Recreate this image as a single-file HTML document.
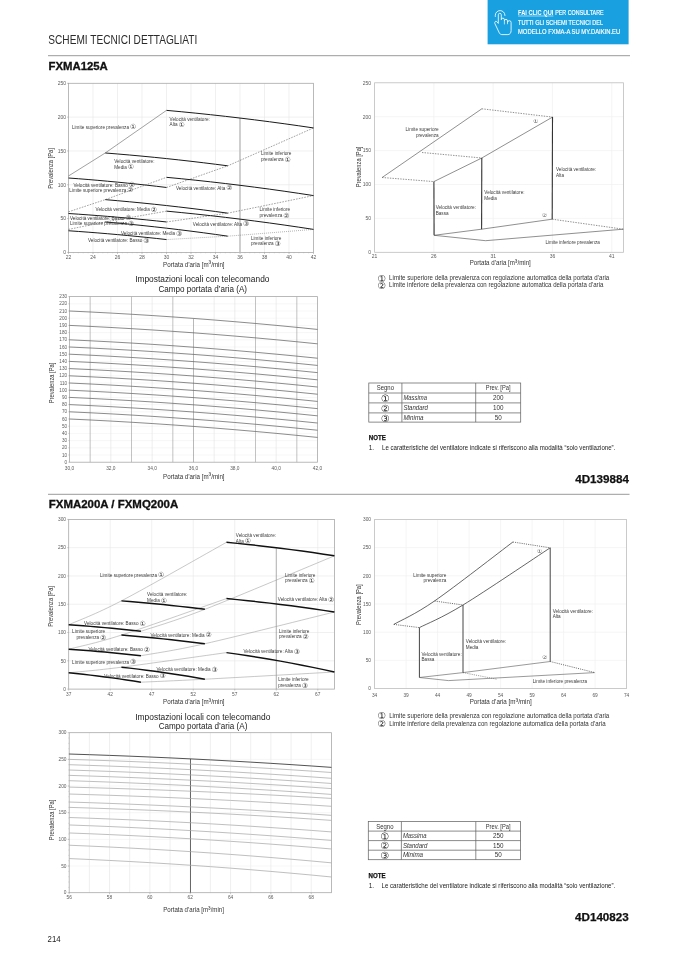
<!DOCTYPE html>
<html lang="it"><head><meta charset="utf-8"><title>Schemi tecnici dettagliati</title>
<style>
html,body{margin:0;padding:0;background:#fff;}
body{width:677px;height:958px;overflow:hidden;}
svg{display:block;font-family:"Liberation Sans", "DejaVu Sans", sans-serif;}
</style></head><body>
<svg width="677" height="958" viewBox="0 0 677 958">
<rect width="677" height="958" fill="#fff"/>
<text x="48.3" y="44.4" font-size="12.2" fill="#2b2b2b" textLength="149" lengthAdjust="spacingAndGlyphs">SCHEMI TECNICI DETTAGLIATI</text>
<line x1="48" y1="55.7" x2="630" y2="55.7" stroke="#9a9a9a" stroke-width="1"/>
<text x="48.5" y="69.9" font-size="10.4" fill="#111" font-weight="bold" textLength="59.3" lengthAdjust="spacingAndGlyphs" stroke="#111" stroke-width="0.3">FXMA125A</text>
<rect x="487.6" y="0" width="141" height="44.3" fill="#18a0e0" stroke="none" stroke-width="1"/>
<text x="518" y="15.3" font-size="6.9" fill="#fff" font-weight="bold" textLength="35.4" lengthAdjust="spacingAndGlyphs">FAI CLIC QUI</text>
<line x1="518" y1="16" x2="553.4" y2="16" stroke="#fff" stroke-width="0.6"/>
<text x="555.2" y="15.3" font-size="6.9" fill="#fff" textLength="48.4" lengthAdjust="spacingAndGlyphs" stroke="#fff" stroke-width="0.18">PER CONSULTARE</text>
<text x="518" y="24.8" font-size="6.9" fill="#fff" textLength="85" lengthAdjust="spacingAndGlyphs" stroke="#fff" stroke-width="0.18">TUTTI GLI SCHEMI TECNICI DEL</text>
<text x="518" y="34.2" font-size="6.9" fill="#fff" textLength="102.2" lengthAdjust="spacingAndGlyphs" stroke="#fff" stroke-width="0.18">MODELLO FXMA-A SU MY.DAIKIN.EU</text>
<path d="M498.3,23.4 L498.3,14.8 A1.5,1.5 0 0 1 501.3,14.8 L501.3,19.7 A1.55,1.55 0 0 1 504.4,19.7 L504.4,20.9 A1.55,1.55 0 0 1 507.5,20.9 L507.5,22.5 A1.8,1.8 0 0 1 511.1,22.5 L511.1,30.6 C511.1,32.8 509.9,34.6 507.9,34.6 L501.8,34.6 C500.6,34.6 499.9,33.9 499.3,32.9 L494.9,23.6 C494.3,22.2 495.5,20.6 496.7,21.6 Z" fill="none" stroke="#fff" stroke-width="0.85"/>
<line x1="504.4" y1="20.9" x2="504.4" y2="24.4" stroke="#fff" stroke-width="0.7"/>
<line x1="507.5" y1="22.5" x2="507.5" y2="24.2" stroke="#fff" stroke-width="0.7"/>
<path d="M495.3,16.9 L495.3,15.4 A4.8,4.8 0 0 1 504.9,15.4 L504.9,16.0" fill="none" stroke="#fff" stroke-width="0.85"/>
<line x1="93" y1="83.3" x2="93" y2="252.4" stroke="#e6e6e6" stroke-width="0.6"/>
<line x1="117.5" y1="83.3" x2="117.5" y2="252.4" stroke="#e6e6e6" stroke-width="0.6"/>
<line x1="142" y1="83.3" x2="142" y2="252.4" stroke="#e6e6e6" stroke-width="0.6"/>
<line x1="166.5" y1="83.3" x2="166.5" y2="252.4" stroke="#e6e6e6" stroke-width="0.6"/>
<line x1="191" y1="83.3" x2="191" y2="252.4" stroke="#e6e6e6" stroke-width="0.6"/>
<line x1="215.5" y1="83.3" x2="215.5" y2="252.4" stroke="#e6e6e6" stroke-width="0.6"/>
<line x1="240" y1="83.3" x2="240" y2="252.4" stroke="#e6e6e6" stroke-width="0.6"/>
<line x1="264.5" y1="83.3" x2="264.5" y2="252.4" stroke="#e6e6e6" stroke-width="0.6"/>
<line x1="289" y1="83.3" x2="289" y2="252.4" stroke="#e6e6e6" stroke-width="0.6"/>
<line x1="68.5" y1="218.58" x2="313.5" y2="218.58" stroke="#e6e6e6" stroke-width="0.6"/>
<line x1="68.5" y1="184.76" x2="313.5" y2="184.76" stroke="#e6e6e6" stroke-width="0.6"/>
<line x1="68.5" y1="150.94" x2="313.5" y2="150.94" stroke="#e6e6e6" stroke-width="0.6"/>
<line x1="68.5" y1="117.12" x2="313.5" y2="117.12" stroke="#e6e6e6" stroke-width="0.6"/>
<rect x="68.5" y="83.3" width="245" height="169.1" fill="none" stroke="#a8a8a8" stroke-width="0.8"/>
<text x="66" y="254.2" font-size="5" fill="#5a5a5a" text-anchor="end">0</text>
<line x1="67" y1="252.4" x2="68.5" y2="252.4" stroke="#999" stroke-width="0.5"/>
<text x="66" y="220.38" font-size="5" fill="#5a5a5a" text-anchor="end">50</text>
<line x1="67" y1="218.58" x2="68.5" y2="218.58" stroke="#999" stroke-width="0.5"/>
<text x="66" y="186.56" font-size="5" fill="#5a5a5a" text-anchor="end">100</text>
<line x1="67" y1="184.76" x2="68.5" y2="184.76" stroke="#999" stroke-width="0.5"/>
<text x="66" y="152.74" font-size="5" fill="#5a5a5a" text-anchor="end">150</text>
<line x1="67" y1="150.94" x2="68.5" y2="150.94" stroke="#999" stroke-width="0.5"/>
<text x="66" y="118.92" font-size="5" fill="#5a5a5a" text-anchor="end">200</text>
<line x1="67" y1="117.12" x2="68.5" y2="117.12" stroke="#999" stroke-width="0.5"/>
<text x="66" y="85.1" font-size="5" fill="#5a5a5a" text-anchor="end">250</text>
<line x1="67" y1="83.3" x2="68.5" y2="83.3" stroke="#999" stroke-width="0.5"/>
<text x="68.5" y="258.8" font-size="5" fill="#5a5a5a" text-anchor="middle">22</text>
<line x1="68.5" y1="252.4" x2="68.5" y2="253.9" stroke="#999" stroke-width="0.5"/>
<text x="93" y="258.8" font-size="5" fill="#5a5a5a" text-anchor="middle">24</text>
<line x1="93" y1="252.4" x2="93" y2="253.9" stroke="#999" stroke-width="0.5"/>
<text x="117.5" y="258.8" font-size="5" fill="#5a5a5a" text-anchor="middle">26</text>
<line x1="117.5" y1="252.4" x2="117.5" y2="253.9" stroke="#999" stroke-width="0.5"/>
<text x="142" y="258.8" font-size="5" fill="#5a5a5a" text-anchor="middle">28</text>
<line x1="142" y1="252.4" x2="142" y2="253.9" stroke="#999" stroke-width="0.5"/>
<text x="166.5" y="258.8" font-size="5" fill="#5a5a5a" text-anchor="middle">30</text>
<line x1="166.5" y1="252.4" x2="166.5" y2="253.9" stroke="#999" stroke-width="0.5"/>
<text x="191" y="258.8" font-size="5" fill="#5a5a5a" text-anchor="middle">32</text>
<line x1="191" y1="252.4" x2="191" y2="253.9" stroke="#999" stroke-width="0.5"/>
<text x="215.5" y="258.8" font-size="5" fill="#5a5a5a" text-anchor="middle">34</text>
<line x1="215.5" y1="252.4" x2="215.5" y2="253.9" stroke="#999" stroke-width="0.5"/>
<text x="240" y="258.8" font-size="5" fill="#5a5a5a" text-anchor="middle">36</text>
<line x1="240" y1="252.4" x2="240" y2="253.9" stroke="#999" stroke-width="0.5"/>
<text x="264.5" y="258.8" font-size="5" fill="#5a5a5a" text-anchor="middle">38</text>
<line x1="264.5" y1="252.4" x2="264.5" y2="253.9" stroke="#999" stroke-width="0.5"/>
<text x="289" y="258.8" font-size="5" fill="#5a5a5a" text-anchor="middle">40</text>
<line x1="289" y1="252.4" x2="289" y2="253.9" stroke="#999" stroke-width="0.5"/>
<text x="313.5" y="258.8" font-size="5" fill="#5a5a5a" text-anchor="middle">42</text>
<line x1="313.5" y1="252.4" x2="313.5" y2="253.9" stroke="#999" stroke-width="0.5"/>
<line x1="68.5" y1="252.4" x2="68.5" y2="253.3" stroke="#aaa" stroke-width="0.4"/>
<line x1="73.4" y1="252.4" x2="73.4" y2="253.3" stroke="#aaa" stroke-width="0.4"/>
<line x1="78.3" y1="252.4" x2="78.3" y2="253.3" stroke="#aaa" stroke-width="0.4"/>
<line x1="83.2" y1="252.4" x2="83.2" y2="253.3" stroke="#aaa" stroke-width="0.4"/>
<line x1="88.1" y1="252.4" x2="88.1" y2="253.3" stroke="#aaa" stroke-width="0.4"/>
<line x1="93" y1="252.4" x2="93" y2="253.3" stroke="#aaa" stroke-width="0.4"/>
<line x1="97.9" y1="252.4" x2="97.9" y2="253.3" stroke="#aaa" stroke-width="0.4"/>
<line x1="102.8" y1="252.4" x2="102.8" y2="253.3" stroke="#aaa" stroke-width="0.4"/>
<line x1="107.7" y1="252.4" x2="107.7" y2="253.3" stroke="#aaa" stroke-width="0.4"/>
<line x1="112.6" y1="252.4" x2="112.6" y2="253.3" stroke="#aaa" stroke-width="0.4"/>
<line x1="117.5" y1="252.4" x2="117.5" y2="253.3" stroke="#aaa" stroke-width="0.4"/>
<line x1="122.4" y1="252.4" x2="122.4" y2="253.3" stroke="#aaa" stroke-width="0.4"/>
<line x1="127.3" y1="252.4" x2="127.3" y2="253.3" stroke="#aaa" stroke-width="0.4"/>
<line x1="132.2" y1="252.4" x2="132.2" y2="253.3" stroke="#aaa" stroke-width="0.4"/>
<line x1="137.1" y1="252.4" x2="137.1" y2="253.3" stroke="#aaa" stroke-width="0.4"/>
<line x1="142" y1="252.4" x2="142" y2="253.3" stroke="#aaa" stroke-width="0.4"/>
<line x1="146.9" y1="252.4" x2="146.9" y2="253.3" stroke="#aaa" stroke-width="0.4"/>
<line x1="151.8" y1="252.4" x2="151.8" y2="253.3" stroke="#aaa" stroke-width="0.4"/>
<line x1="156.7" y1="252.4" x2="156.7" y2="253.3" stroke="#aaa" stroke-width="0.4"/>
<line x1="161.6" y1="252.4" x2="161.6" y2="253.3" stroke="#aaa" stroke-width="0.4"/>
<line x1="166.5" y1="252.4" x2="166.5" y2="253.3" stroke="#aaa" stroke-width="0.4"/>
<line x1="171.4" y1="252.4" x2="171.4" y2="253.3" stroke="#aaa" stroke-width="0.4"/>
<line x1="176.3" y1="252.4" x2="176.3" y2="253.3" stroke="#aaa" stroke-width="0.4"/>
<line x1="181.2" y1="252.4" x2="181.2" y2="253.3" stroke="#aaa" stroke-width="0.4"/>
<line x1="186.1" y1="252.4" x2="186.1" y2="253.3" stroke="#aaa" stroke-width="0.4"/>
<line x1="191" y1="252.4" x2="191" y2="253.3" stroke="#aaa" stroke-width="0.4"/>
<line x1="195.9" y1="252.4" x2="195.9" y2="253.3" stroke="#aaa" stroke-width="0.4"/>
<line x1="200.8" y1="252.4" x2="200.8" y2="253.3" stroke="#aaa" stroke-width="0.4"/>
<line x1="205.7" y1="252.4" x2="205.7" y2="253.3" stroke="#aaa" stroke-width="0.4"/>
<line x1="210.6" y1="252.4" x2="210.6" y2="253.3" stroke="#aaa" stroke-width="0.4"/>
<line x1="215.5" y1="252.4" x2="215.5" y2="253.3" stroke="#aaa" stroke-width="0.4"/>
<line x1="220.4" y1="252.4" x2="220.4" y2="253.3" stroke="#aaa" stroke-width="0.4"/>
<line x1="225.3" y1="252.4" x2="225.3" y2="253.3" stroke="#aaa" stroke-width="0.4"/>
<line x1="230.2" y1="252.4" x2="230.2" y2="253.3" stroke="#aaa" stroke-width="0.4"/>
<line x1="235.1" y1="252.4" x2="235.1" y2="253.3" stroke="#aaa" stroke-width="0.4"/>
<line x1="240" y1="252.4" x2="240" y2="253.3" stroke="#aaa" stroke-width="0.4"/>
<line x1="244.9" y1="252.4" x2="244.9" y2="253.3" stroke="#aaa" stroke-width="0.4"/>
<line x1="249.8" y1="252.4" x2="249.8" y2="253.3" stroke="#aaa" stroke-width="0.4"/>
<line x1="254.7" y1="252.4" x2="254.7" y2="253.3" stroke="#aaa" stroke-width="0.4"/>
<line x1="259.6" y1="252.4" x2="259.6" y2="253.3" stroke="#aaa" stroke-width="0.4"/>
<line x1="264.5" y1="252.4" x2="264.5" y2="253.3" stroke="#aaa" stroke-width="0.4"/>
<line x1="269.4" y1="252.4" x2="269.4" y2="253.3" stroke="#aaa" stroke-width="0.4"/>
<line x1="274.3" y1="252.4" x2="274.3" y2="253.3" stroke="#aaa" stroke-width="0.4"/>
<line x1="279.2" y1="252.4" x2="279.2" y2="253.3" stroke="#aaa" stroke-width="0.4"/>
<line x1="284.1" y1="252.4" x2="284.1" y2="253.3" stroke="#aaa" stroke-width="0.4"/>
<line x1="289" y1="252.4" x2="289" y2="253.3" stroke="#aaa" stroke-width="0.4"/>
<line x1="293.9" y1="252.4" x2="293.9" y2="253.3" stroke="#aaa" stroke-width="0.4"/>
<line x1="298.8" y1="252.4" x2="298.8" y2="253.3" stroke="#aaa" stroke-width="0.4"/>
<line x1="303.7" y1="252.4" x2="303.7" y2="253.3" stroke="#aaa" stroke-width="0.4"/>
<line x1="308.6" y1="252.4" x2="308.6" y2="253.3" stroke="#aaa" stroke-width="0.4"/>
<line x1="313.5" y1="252.4" x2="313.5" y2="253.3" stroke="#aaa" stroke-width="0.4"/>
<line x1="240" y1="118.07" x2="240" y2="252.4" stroke="#c4c4c4" stroke-width="1.6"/>
<polyline points="68.5,178 78.3,178.73 88.1,179.51 97.9,180.34 107.7,181.22 117.5,182.14 127.3,183.11 137.1,184.13 146.9,185.19 156.7,186.31 166.5,187.47" fill="none" stroke="#1a1a1a" stroke-width="1"/>
<polyline points="105.25,152.97 117.5,153.97 129.75,155.03 142,156.15 154.25,157.34 166.5,158.59 178.75,159.91 191,161.29 203.25,162.74 215.5,164.25 227.75,165.82" fill="none" stroke="#1a1a1a" stroke-width="1"/>
<polyline points="166.5,110.36 181.2,111.72 195.9,113.17 210.6,114.71 225.3,116.34 240,118.05 254.7,119.85 269.4,121.74 284.1,123.72 298.8,125.79 313.5,127.94" fill="none" stroke="#1a1a1a" stroke-width="1"/>
<polyline points="68.5,175.97 105.25,152.97 166.5,110.36" fill="none" stroke="#555" stroke-width="0.55"/>
<polyline points="166.5,187.47 227.75,165.82 313.5,127.94" fill="none" stroke="#555" stroke-width="0.55" stroke-dasharray="1.6,1.2"/>
<polyline points="68.5,213.51 78.3,214.16 88.1,214.86 97.9,215.6 107.7,216.38 117.5,217.21 127.3,218.07 137.1,218.98 146.9,219.93 156.7,220.93 166.5,221.96" fill="none" stroke="#1a1a1a" stroke-width="1"/>
<polyline points="105.25,199.64 117.5,200.69 129.75,201.81 142,202.99 154.25,204.24 166.5,205.56 178.75,206.95 191,208.4 203.25,209.92 215.5,211.51 227.75,213.17" fill="none" stroke="#1a1a1a" stroke-width="1"/>
<polyline points="166.5,177.32 181.2,178.73 195.9,180.24 210.6,181.84 225.3,183.53 240,185.31 254.7,187.18 269.4,189.14 284.1,191.2 298.8,193.35 313.5,195.58" fill="none" stroke="#1a1a1a" stroke-width="1"/>
<polyline points="68.5,211.82 105.25,199.64 166.5,177.32" fill="none" stroke="#555" stroke-width="0.55" stroke-dasharray="1.6,1.2"/>
<polyline points="166.5,221.96 227.75,213.17 313.5,195.58" fill="none" stroke="#555" stroke-width="0.55" stroke-dasharray="1.6,1.2"/>
<polyline points="68.5,230.76 78.3,231.44 88.1,232.16 97.9,232.93 107.7,233.74 117.5,234.6 127.3,235.5 137.1,236.45 146.9,237.44 156.7,238.47 166.5,239.55" fill="none" stroke="#1a1a1a" stroke-width="1"/>
<polyline points="105.25,221.96 117.5,223.06 129.75,224.23 142,225.48 154.25,226.79 166.5,228.18 178.75,229.63 191,231.16 203.25,232.76 215.5,234.43 227.75,236.17" fill="none" stroke="#1a1a1a" stroke-width="1"/>
<polyline points="166.5,211.14 181.2,212.55 195.9,214.06 210.6,215.66 225.3,217.35 240,219.13 254.7,221 269.4,222.96 284.1,225.02 298.8,227.17 313.5,229.4" fill="none" stroke="#1a1a1a" stroke-width="1"/>
<polyline points="68.5,229.4 105.25,221.96 166.5,211.14" fill="none" stroke="#555" stroke-width="0.55" stroke-dasharray="1.6,1.2"/>
<polyline points="166.5,239.55 227.75,236.17 313.5,229.4" fill="none" stroke="#555" stroke-width="0.55" stroke-dasharray="0.8,1.2"/>
<text transform="translate(72,128.8) scale(0.8,1)" font-size="5.8" fill="#3a3a3a">Limite superiore prevalenza</text>
<text x="129.88" y="129.4" font-size="7" fill="#3a3a3a">①</text>
<text transform="translate(169.6,120.6) scale(0.8,1)" font-size="5.8" fill="#3a3a3a">Velocità ventilatore:</text>
<text transform="translate(169.6,126.3) scale(0.8,1)" font-size="5.8" fill="#3a3a3a">Alta</text>
<text x="178.5" y="126.9" font-size="7" fill="#3a3a3a">①</text>
<text transform="translate(114.2,162.7) scale(0.8,1)" font-size="5.8" fill="#3a3a3a">Velocità ventilatore:</text>
<text transform="translate(114.2,168.5) scale(0.8,1)" font-size="5.8" fill="#3a3a3a">Media</text>
<text x="127.74" y="169.1" font-size="7" fill="#3a3a3a">①</text>
<text transform="translate(261,155.3) scale(0.8,1)" font-size="5.8" fill="#3a3a3a">Limite inferiore</text>
<text transform="translate(261,160.9) scale(0.8,1)" font-size="5.8" fill="#3a3a3a">prevalenza</text>
<text x="284.59" y="161.5" font-size="7" fill="#3a3a3a">①</text>
<text transform="translate(73.4,186.5) scale(0.8,1)" font-size="5.8" fill="#3a3a3a">Velocità ventilatore: Basso</text>
<text x="128.7" y="187.1" font-size="7" fill="#3a3a3a">①</text>
<text transform="translate(69.3,191.8) scale(0.8,1)" font-size="5.8" fill="#3a3a3a">Limite superiore prevalenza</text>
<text x="127.18" y="192.4" font-size="7" fill="#3a3a3a">②</text>
<text transform="translate(176,189.6) scale(0.8,1)" font-size="5.8" fill="#3a3a3a">Velocità ventilatore: Alta</text>
<text x="226.15" y="190.2" font-size="7" fill="#3a3a3a">②</text>
<text transform="translate(95.6,210.9) scale(0.8,1)" font-size="5.8" fill="#3a3a3a">Velocità ventilatore: Media</text>
<text x="150.64" y="211.5" font-size="7" fill="#3a3a3a">②</text>
<text transform="translate(259.6,210.9) scale(0.8,1)" font-size="5.8" fill="#3a3a3a">Limite inferiore</text>
<text transform="translate(259.6,216.9) scale(0.8,1)" font-size="5.8" fill="#3a3a3a">prevalenza</text>
<text x="283.19" y="217.5" font-size="7" fill="#3a3a3a">②</text>
<text transform="translate(70,219.6) scale(0.8,1)" font-size="5.8" fill="#3a3a3a">Velocità ventilatore: Basso</text>
<text x="125.3" y="220.2" font-size="7" fill="#3a3a3a">②</text>
<text transform="translate(70,225.4) scale(0.8,1)" font-size="5.8" fill="#3a3a3a">Limite superiore prevalenza</text>
<text x="127.88" y="226" font-size="7" fill="#3a3a3a">③</text>
<text transform="translate(192.8,225.8) scale(0.8,1)" font-size="5.8" fill="#3a3a3a">Velocità ventilatore: Alta</text>
<text x="242.95" y="226.4" font-size="7" fill="#3a3a3a">③</text>
<text transform="translate(121,235.1) scale(0.8,1)" font-size="5.8" fill="#3a3a3a">Velocità ventilatore: Media</text>
<text x="176.04" y="235.7" font-size="7" fill="#3a3a3a">③</text>
<text transform="translate(88,242.3) scale(0.8,1)" font-size="5.8" fill="#3a3a3a">Velocità ventilatore: Basso</text>
<text x="143.3" y="242.9" font-size="7" fill="#3a3a3a">③</text>
<text transform="translate(251,239.9) scale(0.8,1)" font-size="5.8" fill="#3a3a3a">Limite inferiore</text>
<text transform="translate(251,245) scale(0.8,1)" font-size="5.8" fill="#3a3a3a">prevalenza</text>
<text x="274.59" y="245.6" font-size="7" fill="#3a3a3a">③</text>
<text x="163.1" y="266.6" font-size="6.4" fill="#333" textLength="61.5" lengthAdjust="spacingAndGlyphs">Portata d’aria [m<tspan font-size="8" dy="-0.4">³</tspan><tspan dy="0.4">/min]</tspan></text>
<text x="0" y="0" font-size="6.4" fill="#333" text-anchor="middle" textLength="40.7" lengthAdjust="spacingAndGlyphs" transform="translate(53.3,168.5) rotate(-90)">Prevalenza [Pa]</text>
<line x1="433.89" y1="82.8" x2="433.89" y2="252.3" stroke="#efefef" stroke-width="0.6"/>
<line x1="493.17" y1="82.8" x2="493.17" y2="252.3" stroke="#efefef" stroke-width="0.6"/>
<line x1="552.46" y1="82.8" x2="552.46" y2="252.3" stroke="#efefef" stroke-width="0.6"/>
<line x1="611.74" y1="82.8" x2="611.74" y2="252.3" stroke="#efefef" stroke-width="0.6"/>
<line x1="374.6" y1="218.4" x2="623.6" y2="218.4" stroke="#efefef" stroke-width="0.6"/>
<line x1="374.6" y1="184.5" x2="623.6" y2="184.5" stroke="#efefef" stroke-width="0.6"/>
<line x1="374.6" y1="150.6" x2="623.6" y2="150.6" stroke="#efefef" stroke-width="0.6"/>
<line x1="374.6" y1="116.7" x2="623.6" y2="116.7" stroke="#efefef" stroke-width="0.6"/>
<rect x="374.6" y="82.8" width="249" height="169.5" fill="none" stroke="#bdbdbd" stroke-width="0.8"/>
<text x="371" y="254.1" font-size="5" fill="#5a5a5a" text-anchor="end">0</text>
<text x="371" y="220.2" font-size="5" fill="#5a5a5a" text-anchor="end">50</text>
<text x="371" y="186.3" font-size="5" fill="#5a5a5a" text-anchor="end">100</text>
<text x="371" y="152.4" font-size="5" fill="#5a5a5a" text-anchor="end">150</text>
<text x="371" y="118.5" font-size="5" fill="#5a5a5a" text-anchor="end">200</text>
<text x="371" y="84.6" font-size="5" fill="#5a5a5a" text-anchor="end">250</text>
<text x="374.6" y="258.4" font-size="5" fill="#5a5a5a" text-anchor="middle">21</text>
<text x="433.89" y="258.4" font-size="5" fill="#5a5a5a" text-anchor="middle">26</text>
<text x="493.17" y="258.4" font-size="5" fill="#5a5a5a" text-anchor="middle">31</text>
<text x="552.46" y="258.4" font-size="5" fill="#5a5a5a" text-anchor="middle">36</text>
<text x="611.74" y="258.4" font-size="5" fill="#5a5a5a" text-anchor="middle">41</text>
<polyline points="382.1,177.5 481.8,108.8" fill="none" stroke="#444" stroke-width="0.6"/>
<polyline points="481.8,108.8 552.5,117.1" fill="none" stroke="#444" stroke-width="0.6" stroke-dasharray="1.4,1.2"/>
<polyline points="433.9,181.6 481.8,158 552.5,117.1" fill="none" stroke="#444" stroke-width="0.6"/>
<polyline points="382.1,177.5 433.9,181.6" fill="none" stroke="#444" stroke-width="0.6" stroke-dasharray="1.4,1.2"/>
<polyline points="422,152.5 481.8,158" fill="none" stroke="#444" stroke-width="0.6" stroke-dasharray="1.4,1.2"/>
<line x1="433.9" y1="181.6" x2="434.1" y2="235.3" stroke="#333" stroke-width="1.1"/>
<line x1="481.8" y1="158" x2="481.6" y2="229.2" stroke="#333" stroke-width="1.1"/>
<line x1="552.5" y1="117.1" x2="552.2" y2="219.2" stroke="#333" stroke-width="1.1"/>
<polyline points="434.1,235.3 481.6,229.2 552.2,219.2" fill="none" stroke="#444" stroke-width="0.6"/>
<polyline points="552.2,219.2 623.4,229.2" fill="none" stroke="#444" stroke-width="0.6" stroke-dasharray="1.4,1.2"/>
<polyline points="623.4,229.2 485.6,240.7 434.1,235.3" fill="none" stroke="#444" stroke-width="0.6"/>
<text transform="translate(438.6,130.8) scale(0.8,1)" font-size="5.8" fill="#3a3a3a" text-anchor="end">Limite superiore</text>
<text transform="translate(438.6,136.6) scale(0.8,1)" font-size="5.8" fill="#3a3a3a" text-anchor="end">prevalenza</text>
<text x="535.8" y="122.6" font-size="5.6" fill="#3a3a3a" text-anchor="middle">①</text>
<text transform="translate(556,171) scale(0.8,1)" font-size="5.8" fill="#3a3a3a">Velocità ventilatore:</text>
<text transform="translate(556,176.6) scale(0.8,1)" font-size="5.8" fill="#3a3a3a">Alta</text>
<text transform="translate(484.3,193.6) scale(0.8,1)" font-size="5.8" fill="#3a3a3a">Velocità ventilatore:</text>
<text transform="translate(484.3,199.6) scale(0.8,1)" font-size="5.8" fill="#3a3a3a">Media</text>
<text transform="translate(435.7,208.9) scale(0.8,1)" font-size="5.8" fill="#3a3a3a">Velocità ventilatore:</text>
<text transform="translate(435.7,214.9) scale(0.8,1)" font-size="5.8" fill="#3a3a3a">Bassa</text>
<text x="544.4" y="216.7" font-size="5.6" fill="#3a3a3a" text-anchor="middle">②</text>
<text transform="translate(545.4,243.9) scale(0.8,1)" font-size="5.8" fill="#3a3a3a">Limite inferiore prevalenza</text>
<text x="469.7" y="265.3" font-size="6.4" fill="#333" textLength="61.1" lengthAdjust="spacingAndGlyphs">Portata d’aria [m<tspan font-size="8" dy="-0.4">³</tspan><tspan dy="0.4">/min]</tspan></text>
<text x="0" y="0" font-size="6.4" fill="#333" text-anchor="middle" textLength="40.7" lengthAdjust="spacingAndGlyphs" transform="translate(360.5,166.9) rotate(-90)">Prevalenza [Pa]</text>
<text x="377.6" y="281.7" font-size="9.6" fill="#222">①</text>
<text x="389.1" y="280.4" font-size="6.3" fill="#333" textLength="220.2" lengthAdjust="spacingAndGlyphs">Limite superiore della prevalenza con regolazione automatica della portata d’aria</text>
<text x="377.6" y="288.7" font-size="9.6" fill="#222">②</text>
<text x="389.1" y="287.2" font-size="6.3" fill="#333" textLength="214.3" lengthAdjust="spacingAndGlyphs">Limite inferiore della prevalenza con regolazione automatica della portata d’aria</text>
<text x="202.3" y="281.8" font-size="8.6" fill="#222" text-anchor="middle" textLength="134.3" lengthAdjust="spacingAndGlyphs">Impostazioni locali con telecomando</text>
<text x="202.7" y="291.9" font-size="8.6" fill="#222" text-anchor="middle" textLength="88.6" lengthAdjust="spacingAndGlyphs">Campo portata d’aria (A)</text>
<line x1="69.5" y1="455" x2="317.5" y2="455" stroke="#eeeeee" stroke-width="0.5"/>
<line x1="69.5" y1="447.8" x2="317.5" y2="447.8" stroke="#eeeeee" stroke-width="0.5"/>
<line x1="69.5" y1="440.6" x2="317.5" y2="440.6" stroke="#eeeeee" stroke-width="0.5"/>
<line x1="69.5" y1="433.4" x2="317.5" y2="433.4" stroke="#eeeeee" stroke-width="0.5"/>
<line x1="69.5" y1="426.2" x2="317.5" y2="426.2" stroke="#eeeeee" stroke-width="0.5"/>
<line x1="69.5" y1="419" x2="317.5" y2="419" stroke="#eeeeee" stroke-width="0.5"/>
<line x1="69.5" y1="411.8" x2="317.5" y2="411.8" stroke="#eeeeee" stroke-width="0.5"/>
<line x1="69.5" y1="404.6" x2="317.5" y2="404.6" stroke="#eeeeee" stroke-width="0.5"/>
<line x1="69.5" y1="397.4" x2="317.5" y2="397.4" stroke="#eeeeee" stroke-width="0.5"/>
<line x1="69.5" y1="390.2" x2="317.5" y2="390.2" stroke="#eeeeee" stroke-width="0.5"/>
<line x1="69.5" y1="383" x2="317.5" y2="383" stroke="#eeeeee" stroke-width="0.5"/>
<line x1="69.5" y1="375.8" x2="317.5" y2="375.8" stroke="#eeeeee" stroke-width="0.5"/>
<line x1="69.5" y1="368.6" x2="317.5" y2="368.6" stroke="#eeeeee" stroke-width="0.5"/>
<line x1="69.5" y1="361.4" x2="317.5" y2="361.4" stroke="#eeeeee" stroke-width="0.5"/>
<line x1="69.5" y1="354.2" x2="317.5" y2="354.2" stroke="#eeeeee" stroke-width="0.5"/>
<line x1="69.5" y1="347" x2="317.5" y2="347" stroke="#eeeeee" stroke-width="0.5"/>
<line x1="69.5" y1="339.8" x2="317.5" y2="339.8" stroke="#eeeeee" stroke-width="0.5"/>
<line x1="69.5" y1="332.6" x2="317.5" y2="332.6" stroke="#eeeeee" stroke-width="0.5"/>
<line x1="69.5" y1="325.4" x2="317.5" y2="325.4" stroke="#eeeeee" stroke-width="0.5"/>
<line x1="69.5" y1="318.2" x2="317.5" y2="318.2" stroke="#eeeeee" stroke-width="0.5"/>
<line x1="69.5" y1="311" x2="317.5" y2="311" stroke="#eeeeee" stroke-width="0.5"/>
<line x1="69.5" y1="303.8" x2="317.5" y2="303.8" stroke="#eeeeee" stroke-width="0.5"/>
<line x1="110.83" y1="296.6" x2="110.83" y2="462.2" stroke="#e2e2e2" stroke-width="0.6"/>
<line x1="152.17" y1="296.6" x2="152.17" y2="462.2" stroke="#e2e2e2" stroke-width="0.6"/>
<line x1="214.17" y1="296.6" x2="214.17" y2="462.2" stroke="#e2e2e2" stroke-width="0.6"/>
<line x1="234.83" y1="296.6" x2="234.83" y2="462.2" stroke="#e2e2e2" stroke-width="0.6"/>
<line x1="276.17" y1="296.6" x2="276.17" y2="462.2" stroke="#e2e2e2" stroke-width="0.6"/>
<line x1="90.17" y1="296.6" x2="90.17" y2="462.2" stroke="#9a9a9a" stroke-width="0.6"/>
<line x1="131.5" y1="296.6" x2="131.5" y2="462.2" stroke="#9a9a9a" stroke-width="0.6"/>
<line x1="172.83" y1="296.6" x2="172.83" y2="462.2" stroke="#9a9a9a" stroke-width="0.6"/>
<line x1="255.5" y1="296.6" x2="255.5" y2="462.2" stroke="#9a9a9a" stroke-width="0.6"/>
<line x1="296.83" y1="296.6" x2="296.83" y2="462.2" stroke="#9a9a9a" stroke-width="0.6"/>
<rect x="69.5" y="296.6" width="248" height="165.6" fill="none" stroke="#a8a8a8" stroke-width="0.8"/>
<text x="67" y="463.8" font-size="4.6" fill="#5a5a5a" text-anchor="end">0</text>
<line x1="68.2" y1="462.2" x2="69.5" y2="462.2" stroke="#999" stroke-width="0.4"/>
<text x="67" y="456.6" font-size="4.6" fill="#5a5a5a" text-anchor="end">10</text>
<line x1="68.2" y1="455" x2="69.5" y2="455" stroke="#999" stroke-width="0.4"/>
<text x="67" y="449.4" font-size="4.6" fill="#5a5a5a" text-anchor="end">20</text>
<line x1="68.2" y1="447.8" x2="69.5" y2="447.8" stroke="#999" stroke-width="0.4"/>
<text x="67" y="442.2" font-size="4.6" fill="#5a5a5a" text-anchor="end">30</text>
<line x1="68.2" y1="440.6" x2="69.5" y2="440.6" stroke="#999" stroke-width="0.4"/>
<text x="67" y="435" font-size="4.6" fill="#5a5a5a" text-anchor="end">40</text>
<line x1="68.2" y1="433.4" x2="69.5" y2="433.4" stroke="#999" stroke-width="0.4"/>
<text x="67" y="427.8" font-size="4.6" fill="#5a5a5a" text-anchor="end">50</text>
<line x1="68.2" y1="426.2" x2="69.5" y2="426.2" stroke="#999" stroke-width="0.4"/>
<text x="67" y="420.6" font-size="4.6" fill="#5a5a5a" text-anchor="end">60</text>
<line x1="68.2" y1="419" x2="69.5" y2="419" stroke="#999" stroke-width="0.4"/>
<text x="67" y="413.4" font-size="4.6" fill="#5a5a5a" text-anchor="end">70</text>
<line x1="68.2" y1="411.8" x2="69.5" y2="411.8" stroke="#999" stroke-width="0.4"/>
<text x="67" y="406.2" font-size="4.6" fill="#5a5a5a" text-anchor="end">80</text>
<line x1="68.2" y1="404.6" x2="69.5" y2="404.6" stroke="#999" stroke-width="0.4"/>
<text x="67" y="399" font-size="4.6" fill="#5a5a5a" text-anchor="end">90</text>
<line x1="68.2" y1="397.4" x2="69.5" y2="397.4" stroke="#999" stroke-width="0.4"/>
<text x="67" y="391.8" font-size="4.6" fill="#5a5a5a" text-anchor="end">100</text>
<line x1="68.2" y1="390.2" x2="69.5" y2="390.2" stroke="#999" stroke-width="0.4"/>
<text x="67" y="384.6" font-size="4.6" fill="#5a5a5a" text-anchor="end">110</text>
<line x1="68.2" y1="383" x2="69.5" y2="383" stroke="#999" stroke-width="0.4"/>
<text x="67" y="377.4" font-size="4.6" fill="#5a5a5a" text-anchor="end">120</text>
<line x1="68.2" y1="375.8" x2="69.5" y2="375.8" stroke="#999" stroke-width="0.4"/>
<text x="67" y="370.2" font-size="4.6" fill="#5a5a5a" text-anchor="end">130</text>
<line x1="68.2" y1="368.6" x2="69.5" y2="368.6" stroke="#999" stroke-width="0.4"/>
<text x="67" y="363" font-size="4.6" fill="#5a5a5a" text-anchor="end">140</text>
<line x1="68.2" y1="361.4" x2="69.5" y2="361.4" stroke="#999" stroke-width="0.4"/>
<text x="67" y="355.8" font-size="4.6" fill="#5a5a5a" text-anchor="end">150</text>
<line x1="68.2" y1="354.2" x2="69.5" y2="354.2" stroke="#999" stroke-width="0.4"/>
<text x="67" y="348.6" font-size="4.6" fill="#5a5a5a" text-anchor="end">160</text>
<line x1="68.2" y1="347" x2="69.5" y2="347" stroke="#999" stroke-width="0.4"/>
<text x="67" y="341.4" font-size="4.6" fill="#5a5a5a" text-anchor="end">170</text>
<line x1="68.2" y1="339.8" x2="69.5" y2="339.8" stroke="#999" stroke-width="0.4"/>
<text x="67" y="334.2" font-size="4.6" fill="#5a5a5a" text-anchor="end">180</text>
<line x1="68.2" y1="332.6" x2="69.5" y2="332.6" stroke="#999" stroke-width="0.4"/>
<text x="67" y="327" font-size="4.6" fill="#5a5a5a" text-anchor="end">190</text>
<line x1="68.2" y1="325.4" x2="69.5" y2="325.4" stroke="#999" stroke-width="0.4"/>
<text x="67" y="319.8" font-size="4.6" fill="#5a5a5a" text-anchor="end">200</text>
<line x1="68.2" y1="318.2" x2="69.5" y2="318.2" stroke="#999" stroke-width="0.4"/>
<text x="67" y="312.6" font-size="4.6" fill="#5a5a5a" text-anchor="end">210</text>
<line x1="68.2" y1="311" x2="69.5" y2="311" stroke="#999" stroke-width="0.4"/>
<text x="67" y="305.4" font-size="4.6" fill="#5a5a5a" text-anchor="end">220</text>
<line x1="68.2" y1="303.8" x2="69.5" y2="303.8" stroke="#999" stroke-width="0.4"/>
<text x="67" y="298.2" font-size="4.6" fill="#5a5a5a" text-anchor="end">230</text>
<line x1="68.2" y1="296.6" x2="69.5" y2="296.6" stroke="#999" stroke-width="0.4"/>
<text x="69.5" y="470.3" font-size="4.8" fill="#5a5a5a" text-anchor="middle">30,0</text>
<text x="110.83" y="470.3" font-size="4.8" fill="#5a5a5a" text-anchor="middle">32,0</text>
<text x="152.17" y="470.3" font-size="4.8" fill="#5a5a5a" text-anchor="middle">34,0</text>
<text x="193.5" y="470.3" font-size="4.8" fill="#5a5a5a" text-anchor="middle">36,0</text>
<text x="234.83" y="470.3" font-size="4.8" fill="#5a5a5a" text-anchor="middle">38,0</text>
<text x="276.17" y="470.3" font-size="4.8" fill="#5a5a5a" text-anchor="middle">40,0</text>
<text x="317.5" y="470.3" font-size="4.8" fill="#5a5a5a" text-anchor="middle">42,0</text>
<line x1="193.5" y1="318.42" x2="193.5" y2="462.2" stroke="#8a8a8a" stroke-width="0.6"/>
<polyline points="69.5,311 90.17,311.99 110.83,313.07 131.5,314.26 152.17,315.54 172.83,316.93 193.5,318.42 214.17,320 234.83,321.69 255.5,323.47 276.17,325.36 296.83,327.35 317.5,329.43" fill="none" stroke="#505050" stroke-width="0.66"/>
<polyline points="69.5,325.4 90.17,326.39 110.83,327.47 131.5,328.66 152.17,329.94 172.83,331.33 193.5,332.82 214.17,334.4 234.83,336.09 255.5,337.87 276.17,339.76 296.83,341.75 317.5,343.83" fill="none" stroke="#505050" stroke-width="0.66"/>
<polyline points="69.5,339.8 90.17,340.79 110.83,341.87 131.5,343.06 152.17,344.34 172.83,345.73 193.5,347.22 214.17,348.8 234.83,350.49 255.5,352.27 276.17,354.16 296.83,356.15 317.5,358.23" fill="none" stroke="#505050" stroke-width="0.66"/>
<polyline points="69.5,347 90.17,347.99 110.83,349.07 131.5,350.26 152.17,351.54 172.83,352.93 193.5,354.42 214.17,356 234.83,357.69 255.5,359.47 276.17,361.36 296.83,363.35 317.5,365.43" fill="none" stroke="#505050" stroke-width="0.66"/>
<polyline points="69.5,354.2 90.17,355.19 110.83,356.27 131.5,357.46 152.17,358.74 172.83,360.13 193.5,361.62 214.17,363.2 234.83,364.89 255.5,366.67 276.17,368.56 296.83,370.55 317.5,372.63" fill="none" stroke="#505050" stroke-width="0.66"/>
<polyline points="69.5,361.4 90.17,362.39 110.83,363.47 131.5,364.66 152.17,365.94 172.83,367.33 193.5,368.82 214.17,370.4 234.83,372.09 255.5,373.87 276.17,375.76 296.83,377.75 317.5,379.83" fill="none" stroke="#505050" stroke-width="0.66"/>
<polyline points="69.5,368.6 90.17,369.59 110.83,370.67 131.5,371.86 152.17,373.14 172.83,374.53 193.5,376.02 214.17,377.6 234.83,379.29 255.5,381.07 276.17,382.96 296.83,384.95 317.5,387.03" fill="none" stroke="#505050" stroke-width="0.66"/>
<polyline points="69.5,375.8 90.17,376.79 110.83,377.87 131.5,379.06 152.17,380.34 172.83,381.73 193.5,383.22 214.17,384.8 234.83,386.49 255.5,388.27 276.17,390.16 296.83,392.15 317.5,394.23" fill="none" stroke="#505050" stroke-width="0.66"/>
<polyline points="69.5,383 90.17,383.99 110.83,385.07 131.5,386.26 152.17,387.54 172.83,388.93 193.5,390.42 214.17,392 234.83,393.69 255.5,395.47 276.17,397.36 296.83,399.35 317.5,401.43" fill="none" stroke="#505050" stroke-width="0.66"/>
<polyline points="69.5,390.2 90.17,391.19 110.83,392.27 131.5,393.46 152.17,394.74 172.83,396.13 193.5,397.62 214.17,399.2 234.83,400.89 255.5,402.67 276.17,404.56 296.83,406.55 317.5,408.63" fill="none" stroke="#505050" stroke-width="0.66"/>
<polyline points="69.5,397.4 90.17,398.39 110.83,399.47 131.5,400.66 152.17,401.94 172.83,403.33 193.5,404.82 214.17,406.4 234.83,408.09 255.5,409.87 276.17,411.76 296.83,413.75 317.5,415.83" fill="none" stroke="#505050" stroke-width="0.66"/>
<polyline points="69.5,404.6 90.17,405.59 110.83,406.67 131.5,407.86 152.17,409.14 172.83,410.53 193.5,412.02 214.17,413.6 234.83,415.29 255.5,417.07 276.17,418.96 296.83,420.95 317.5,423.03" fill="none" stroke="#505050" stroke-width="0.66"/>
<polyline points="69.5,411.8 90.17,412.79 110.83,413.87 131.5,415.06 152.17,416.34 172.83,417.73 193.5,419.22 214.17,420.8 234.83,422.49 255.5,424.27 276.17,426.16 296.83,428.15 317.5,430.23" fill="none" stroke="#505050" stroke-width="0.66"/>
<polyline points="69.5,419 90.17,419.99 110.83,421.07 131.5,422.26 152.17,423.54 172.83,424.93 193.5,426.42 214.17,428 234.83,429.69 255.5,431.47 276.17,433.36 296.83,435.35 317.5,437.43" fill="none" stroke="#505050" stroke-width="0.66"/>
<text x="163.1" y="478.6" font-size="6.4" fill="#333" textLength="61.5" lengthAdjust="spacingAndGlyphs">Portata d’aria [m<tspan font-size="8" dy="-0.4">³</tspan><tspan dy="0.4">/min]</tspan></text>
<text x="0" y="0" font-size="6.4" fill="#333" text-anchor="middle" textLength="40.7" lengthAdjust="spacingAndGlyphs" transform="translate(53.6,383) rotate(-90)">Prevalenza [Pa]</text>
<rect x="368.8" y="383" width="151.9" height="39.1" fill="none" stroke="#666" stroke-width="0.75"/>
<line x1="401.9" y1="383" x2="401.9" y2="422.1" stroke="#666" stroke-width="0.75"/>
<line x1="475.7" y1="383" x2="475.7" y2="422.1" stroke="#666" stroke-width="0.75"/>
<line x1="368.8" y1="393" x2="520.7" y2="393" stroke="#666" stroke-width="0.75"/>
<line x1="368.8" y1="402.9" x2="520.7" y2="402.9" stroke="#666" stroke-width="0.75"/>
<line x1="368.8" y1="412.9" x2="520.7" y2="412.9" stroke="#666" stroke-width="0.75"/>
<text x="385.35" y="390.2" font-size="6.4" fill="#333" text-anchor="middle" textLength="17.2" lengthAdjust="spacingAndGlyphs">Segno</text>
<text x="498.2" y="390.2" font-size="6.4" fill="#333" text-anchor="middle" textLength="24.8" lengthAdjust="spacingAndGlyphs">Prev. [Pa]</text>
<text x="385.35" y="401.95" font-size="9.8" fill="#222" text-anchor="middle">①</text>
<text x="403.4" y="400.15" font-size="6.6" fill="#333" textLength="23.6" lengthAdjust="spacingAndGlyphs" font-style="italic">Massima</text>
<text x="498.2" y="400.15" font-size="6.3" fill="#333" text-anchor="middle">200</text>
<text x="385.35" y="411.9" font-size="9.8" fill="#222" text-anchor="middle">②</text>
<text x="403.4" y="410.1" font-size="6.6" fill="#333" textLength="24.6" lengthAdjust="spacingAndGlyphs" font-style="italic">Standard</text>
<text x="498.2" y="410.1" font-size="6.3" fill="#333" text-anchor="middle">100</text>
<text x="385.35" y="421.5" font-size="9.8" fill="#222" text-anchor="middle">③</text>
<text x="403.4" y="419.7" font-size="6.6" fill="#333" textLength="20.2" lengthAdjust="spacingAndGlyphs" font-style="italic">Minima</text>
<text x="498.2" y="419.7" font-size="6.3" fill="#333" text-anchor="middle">50</text>
<text x="368.8" y="439.5" font-size="6.7" fill="#111" font-weight="bold" textLength="17" lengthAdjust="spacingAndGlyphs" stroke="#111" stroke-width="0.25">NOTE</text>
<text x="368.8" y="449.9" font-size="6.4" fill="#222">1.</text>
<text x="382" y="449.9" font-size="6.4" fill="#222" textLength="233.3" lengthAdjust="spacingAndGlyphs">Le caratteristiche del ventilatore indicate si riferiscono alla modalità “solo ventilazione”.</text>
<text x="575.2" y="482.7" font-size="10.6" fill="#111" font-weight="bold" textLength="53.8" lengthAdjust="spacingAndGlyphs" stroke="#111" stroke-width="0.25">4D139884</text>
<line x1="48" y1="494.3" x2="629.5" y2="494.3" stroke="#9a9a9a" stroke-width="1"/>
<text x="48.8" y="508.1" font-size="10.4" fill="#111" font-weight="bold" textLength="129.4" lengthAdjust="spacingAndGlyphs" stroke="#111" stroke-width="0.3">FXMA200A / FXMQ200A</text>
<line x1="110.22" y1="519.4" x2="110.22" y2="689.1" stroke="#e6e6e6" stroke-width="0.6"/>
<line x1="151.73" y1="519.4" x2="151.73" y2="689.1" stroke="#e6e6e6" stroke-width="0.6"/>
<line x1="193.25" y1="519.4" x2="193.25" y2="689.1" stroke="#e6e6e6" stroke-width="0.6"/>
<line x1="234.76" y1="519.4" x2="234.76" y2="689.1" stroke="#e6e6e6" stroke-width="0.6"/>
<line x1="317.79" y1="519.4" x2="317.79" y2="689.1" stroke="#e6e6e6" stroke-width="0.6"/>
<line x1="68.7" y1="660.82" x2="334.4" y2="660.82" stroke="#e6e6e6" stroke-width="0.6"/>
<line x1="68.7" y1="632.53" x2="334.4" y2="632.53" stroke="#e6e6e6" stroke-width="0.6"/>
<line x1="68.7" y1="604.25" x2="334.4" y2="604.25" stroke="#e6e6e6" stroke-width="0.6"/>
<line x1="68.7" y1="575.97" x2="334.4" y2="575.97" stroke="#e6e6e6" stroke-width="0.6"/>
<line x1="68.7" y1="547.68" x2="334.4" y2="547.68" stroke="#e6e6e6" stroke-width="0.6"/>
<rect x="68.7" y="519.4" width="265.7" height="169.7" fill="none" stroke="#a8a8a8" stroke-width="0.8"/>
<text x="66" y="690.8" font-size="4.8" fill="#5a5a5a" text-anchor="end">0</text>
<line x1="67.2" y1="689.1" x2="68.7" y2="689.1" stroke="#999" stroke-width="0.5"/>
<text x="66" y="662.52" font-size="4.8" fill="#5a5a5a" text-anchor="end">50</text>
<line x1="67.2" y1="660.82" x2="68.7" y2="660.82" stroke="#999" stroke-width="0.5"/>
<text x="66" y="634.23" font-size="4.8" fill="#5a5a5a" text-anchor="end">100</text>
<line x1="67.2" y1="632.53" x2="68.7" y2="632.53" stroke="#999" stroke-width="0.5"/>
<text x="66" y="605.95" font-size="4.8" fill="#5a5a5a" text-anchor="end">150</text>
<line x1="67.2" y1="604.25" x2="68.7" y2="604.25" stroke="#999" stroke-width="0.5"/>
<text x="66" y="577.67" font-size="4.8" fill="#5a5a5a" text-anchor="end">200</text>
<line x1="67.2" y1="575.97" x2="68.7" y2="575.97" stroke="#999" stroke-width="0.5"/>
<text x="66" y="549.38" font-size="4.8" fill="#5a5a5a" text-anchor="end">250</text>
<line x1="67.2" y1="547.68" x2="68.7" y2="547.68" stroke="#999" stroke-width="0.5"/>
<text x="66" y="521.1" font-size="4.8" fill="#5a5a5a" text-anchor="end">300</text>
<line x1="67.2" y1="519.4" x2="68.7" y2="519.4" stroke="#999" stroke-width="0.5"/>
<text x="68.7" y="695.8" font-size="4.8" fill="#5a5a5a" text-anchor="middle">37</text>
<line x1="68.7" y1="689.1" x2="68.7" y2="690.6" stroke="#999" stroke-width="0.5"/>
<text x="110.22" y="695.8" font-size="4.8" fill="#5a5a5a" text-anchor="middle">42</text>
<line x1="110.22" y1="689.1" x2="110.22" y2="690.6" stroke="#999" stroke-width="0.5"/>
<text x="151.73" y="695.8" font-size="4.8" fill="#5a5a5a" text-anchor="middle">47</text>
<line x1="151.73" y1="689.1" x2="151.73" y2="690.6" stroke="#999" stroke-width="0.5"/>
<text x="193.25" y="695.8" font-size="4.8" fill="#5a5a5a" text-anchor="middle">52</text>
<line x1="193.25" y1="689.1" x2="193.25" y2="690.6" stroke="#999" stroke-width="0.5"/>
<text x="234.76" y="695.8" font-size="4.8" fill="#5a5a5a" text-anchor="middle">57</text>
<line x1="234.76" y1="689.1" x2="234.76" y2="690.6" stroke="#999" stroke-width="0.5"/>
<text x="276.28" y="695.8" font-size="4.8" fill="#5a5a5a" text-anchor="middle">62</text>
<line x1="276.28" y1="689.1" x2="276.28" y2="690.6" stroke="#999" stroke-width="0.5"/>
<text x="317.79" y="695.8" font-size="4.8" fill="#5a5a5a" text-anchor="middle">67</text>
<line x1="317.79" y1="689.1" x2="317.79" y2="690.6" stroke="#999" stroke-width="0.5"/>
<line x1="276.28" y1="548.53" x2="276.28" y2="689.1" stroke="#8a8a8a" stroke-width="0.7"/>
<path d="M68.7,624.78 C77.49,620.8 95.13,614.6 121.42,600.86 C147.72,587.11 208.95,552.07 226.46,542.31" fill="none" stroke="#9a9a9a" stroke-width="0.55"/>
<path d="M140.94,631.29 C151.59,627.63 172.63,621.92 204.87,609.34 C237.12,596.76 312.81,564.75 334.4,555.83" fill="none" stroke="#9a9a9a" stroke-width="0.55"/>
<path d="M68.7,649.22 C77.49,646.86 95.13,643.52 121.42,635.08 C147.72,626.64 208.95,604.67 226.46,598.59" fill="none" stroke="#9a9a9a" stroke-width="0.55"/>
<path d="M140.94,655.73 C151.59,653.73 172.63,651.02 204.87,643.73 C237.12,636.45 312.81,617.29 334.4,612" fill="none" stroke="#9a9a9a" stroke-width="0.55"/>
<path d="M68.7,672.81 C77.49,671.88 95.13,670.57 121.42,667.21 C147.72,663.84 208.95,655.05 226.46,652.61" fill="none" stroke="#9a9a9a" stroke-width="0.55"/>
<path d="M140.94,682.2 C151.59,681.7 172.63,680.9 204.87,679.2 C237.12,677.5 312.81,673.21 334.4,672.02" fill="none" stroke="#9a9a9a" stroke-width="0.55"/>
<polyline points="68.7,624.78 75.92,625.29 83.15,625.82 90.37,626.39 97.59,627 104.82,627.63 112.04,628.3 119.27,629 126.49,629.73 133.71,630.49 140.94,631.29" fill="none" stroke="#111" stroke-width="1.45"/>
<polyline points="121.42,600.86 129.77,601.51 138.11,602.21 146.46,602.96 154.8,603.74 163.15,604.57 171.49,605.44 179.84,606.35 188.18,607.3 196.53,608.3 204.87,609.34" fill="none" stroke="#111" stroke-width="1.45"/>
<polyline points="226.46,542.31 237.25,543.36 248.05,544.47 258.84,545.66 269.64,546.91 280.43,548.22 291.22,549.61 302.02,551.06 312.81,552.58 323.61,554.17 334.4,555.83" fill="none" stroke="#111" stroke-width="1.45"/>
<polyline points="68.7,649.22 75.92,649.72 83.15,650.26 90.37,650.83 97.59,651.43 104.82,652.07 112.04,652.73 119.27,653.43 126.49,654.16 133.71,654.93 140.94,655.73" fill="none" stroke="#111" stroke-width="1.45"/>
<polyline points="121.42,635.08 129.77,635.75 138.11,636.46 146.46,637.22 154.8,638.02 163.15,638.87 171.49,639.75 179.84,640.68 188.18,641.66 196.53,642.67 204.87,643.73" fill="none" stroke="#111" stroke-width="1.45"/>
<polyline points="226.46,598.59 237.25,599.63 248.05,600.74 258.84,601.91 269.64,603.15 280.43,604.46 291.22,605.83 302.02,607.27 312.81,608.78 323.61,610.36 334.4,612" fill="none" stroke="#111" stroke-width="1.45"/>
<polyline points="68.7,672.81 75.92,673.54 83.15,674.31 90.37,675.13 97.59,676 104.82,676.92 112.04,677.88 119.27,678.89 126.49,679.95 133.71,681.05 140.94,682.2" fill="none" stroke="#111" stroke-width="1.45"/>
<polyline points="121.42,667.21 129.77,668.14 138.11,669.13 146.46,670.18 154.8,671.29 163.15,672.46 171.49,673.68 179.84,674.97 188.18,676.32 196.53,677.73 204.87,679.2" fill="none" stroke="#111" stroke-width="1.45"/>
<polyline points="226.46,652.61 237.25,654.12 248.05,655.72 258.84,657.42 269.64,659.21 280.43,661.1 291.22,663.09 302.02,665.18 312.81,667.36 323.61,669.64 334.4,672.02" fill="none" stroke="#111" stroke-width="1.45"/>
<text transform="translate(235.8,536.6) scale(0.8,1)" font-size="5.8" fill="#3a3a3a">Velocità ventilatore:</text>
<text transform="translate(235.8,542.5) scale(0.8,1)" font-size="5.8" fill="#3a3a3a">Alta</text>
<text x="244.7" y="543.1" font-size="7" fill="#3a3a3a">①</text>
<text transform="translate(100,576.8) scale(0.8,1)" font-size="5.8" fill="#3a3a3a">Limite superiore prevalenza</text>
<text x="157.88" y="577.4" font-size="7" fill="#3a3a3a">①</text>
<text transform="translate(147.1,596.1) scale(0.8,1)" font-size="5.8" fill="#3a3a3a">Velocità ventilatore:</text>
<text transform="translate(147.1,601.9) scale(0.8,1)" font-size="5.8" fill="#3a3a3a">Media</text>
<text x="160.64" y="602.5" font-size="7" fill="#3a3a3a">①</text>
<text transform="translate(285,576.8) scale(0.8,1)" font-size="5.8" fill="#3a3a3a">Limite inferiore</text>
<text transform="translate(285,582.4) scale(0.8,1)" font-size="5.8" fill="#3a3a3a">prevalenza</text>
<text x="308.59" y="583" font-size="7" fill="#3a3a3a">①</text>
<text transform="translate(277.8,601.2) scale(0.8,1)" font-size="5.8" fill="#3a3a3a">Velocità ventilatore: Alta</text>
<text x="327.95" y="601.8" font-size="7" fill="#3a3a3a">②</text>
<text transform="translate(84.1,625.2) scale(0.8,1)" font-size="5.8" fill="#3a3a3a">Velocità ventilatore: Basso</text>
<text x="139.4" y="625.8" font-size="7" fill="#3a3a3a">①</text>
<text transform="translate(72.1,633) scale(0.8,1)" font-size="5.8" fill="#3a3a3a">Limite superiore</text>
<text transform="translate(76.4,638.9) scale(0.8,1)" font-size="5.8" fill="#3a3a3a">prevalenza</text>
<text x="99.99" y="639.5" font-size="7" fill="#3a3a3a">②</text>
<text transform="translate(150.5,636.8) scale(0.8,1)" font-size="5.8" fill="#3a3a3a">Velocità ventilatore: Media</text>
<text x="205.54" y="637.4" font-size="7" fill="#3a3a3a">②</text>
<text transform="translate(279,632.5) scale(0.8,1)" font-size="5.8" fill="#3a3a3a">Limite inferiore</text>
<text transform="translate(279,638.1) scale(0.8,1)" font-size="5.8" fill="#3a3a3a">prevalenza</text>
<text x="302.59" y="638.7" font-size="7" fill="#3a3a3a">②</text>
<text transform="translate(88.4,650.9) scale(0.8,1)" font-size="5.8" fill="#3a3a3a">Velocità ventilatore: Basso</text>
<text x="143.7" y="651.5" font-size="7" fill="#3a3a3a">②</text>
<text transform="translate(243.5,653.1) scale(0.8,1)" font-size="5.8" fill="#3a3a3a">Velocità ventilatore: Alta</text>
<text x="293.65" y="653.7" font-size="7" fill="#3a3a3a">③</text>
<text transform="translate(72.1,663.8) scale(0.8,1)" font-size="5.8" fill="#3a3a3a">Limite superiore prevalenza</text>
<text x="129.97" y="664.4" font-size="7" fill="#3a3a3a">③</text>
<text transform="translate(156.5,671.1) scale(0.8,1)" font-size="5.8" fill="#3a3a3a">Velocità ventilatore: Media</text>
<text x="211.54" y="671.7" font-size="7" fill="#3a3a3a">③</text>
<text transform="translate(104.3,677.5) scale(0.8,1)" font-size="5.8" fill="#3a3a3a">Velocità ventilatore: Basso</text>
<text x="159.6" y="678.1" font-size="7" fill="#3a3a3a">③</text>
<text transform="translate(278.2,680.9) scale(0.8,1)" font-size="5.8" fill="#3a3a3a">Limite inferiore</text>
<text transform="translate(278.2,687.4) scale(0.8,1)" font-size="5.8" fill="#3a3a3a">prevalenza</text>
<text x="301.79" y="688" font-size="7" fill="#3a3a3a">③</text>
<text x="163.1" y="704.3" font-size="6.4" fill="#333" textLength="61.5" lengthAdjust="spacingAndGlyphs">Portata d’aria [m<tspan font-size="8" dy="-0.4">³</tspan><tspan dy="0.4">/min]</tspan></text>
<text x="0" y="0" font-size="6.4" fill="#333" text-anchor="middle" textLength="40.7" lengthAdjust="spacingAndGlyphs" transform="translate(53.3,606.4) rotate(-90)">Prevalenza [Pa]</text>
<line x1="406.1" y1="519.4" x2="406.1" y2="688.6" stroke="#efefef" stroke-width="0.6"/>
<line x1="437.6" y1="519.4" x2="437.6" y2="688.6" stroke="#efefef" stroke-width="0.6"/>
<line x1="469.1" y1="519.4" x2="469.1" y2="688.6" stroke="#efefef" stroke-width="0.6"/>
<line x1="500.6" y1="519.4" x2="500.6" y2="688.6" stroke="#efefef" stroke-width="0.6"/>
<line x1="532.1" y1="519.4" x2="532.1" y2="688.6" stroke="#efefef" stroke-width="0.6"/>
<line x1="563.6" y1="519.4" x2="563.6" y2="688.6" stroke="#efefef" stroke-width="0.6"/>
<line x1="595.1" y1="519.4" x2="595.1" y2="688.6" stroke="#efefef" stroke-width="0.6"/>
<line x1="374.6" y1="660.4" x2="626.6" y2="660.4" stroke="#efefef" stroke-width="0.6"/>
<line x1="374.6" y1="632.2" x2="626.6" y2="632.2" stroke="#efefef" stroke-width="0.6"/>
<line x1="374.6" y1="604" x2="626.6" y2="604" stroke="#efefef" stroke-width="0.6"/>
<line x1="374.6" y1="575.8" x2="626.6" y2="575.8" stroke="#efefef" stroke-width="0.6"/>
<line x1="374.6" y1="547.6" x2="626.6" y2="547.6" stroke="#efefef" stroke-width="0.6"/>
<rect x="374.6" y="519.4" width="252" height="169.2" fill="none" stroke="#bdbdbd" stroke-width="0.8"/>
<text x="371" y="690.3" font-size="4.8" fill="#5a5a5a" text-anchor="end">0</text>
<text x="371" y="662.1" font-size="4.8" fill="#5a5a5a" text-anchor="end">50</text>
<text x="371" y="633.9" font-size="4.8" fill="#5a5a5a" text-anchor="end">100</text>
<text x="371" y="605.7" font-size="4.8" fill="#5a5a5a" text-anchor="end">150</text>
<text x="371" y="577.5" font-size="4.8" fill="#5a5a5a" text-anchor="end">200</text>
<text x="371" y="549.3" font-size="4.8" fill="#5a5a5a" text-anchor="end">250</text>
<text x="371" y="521.1" font-size="4.8" fill="#5a5a5a" text-anchor="end">300</text>
<text x="374.6" y="697.2" font-size="4.8" fill="#5a5a5a" text-anchor="middle">34</text>
<text x="406.1" y="697.2" font-size="4.8" fill="#5a5a5a" text-anchor="middle">39</text>
<text x="437.6" y="697.2" font-size="4.8" fill="#5a5a5a" text-anchor="middle">44</text>
<text x="469.1" y="697.2" font-size="4.8" fill="#5a5a5a" text-anchor="middle">49</text>
<text x="500.6" y="697.2" font-size="4.8" fill="#5a5a5a" text-anchor="middle">54</text>
<text x="532.1" y="697.2" font-size="4.8" fill="#5a5a5a" text-anchor="middle">59</text>
<text x="563.6" y="697.2" font-size="4.8" fill="#5a5a5a" text-anchor="middle">64</text>
<text x="595.1" y="697.2" font-size="4.8" fill="#5a5a5a" text-anchor="middle">69</text>
<text x="626.6" y="697.2" font-size="4.8" fill="#5a5a5a" text-anchor="middle">74</text>
<path d="M393.8,624.4 C400.58,620.5 414.65,614.73 434.5,601 C454.35,587.27 499.83,551.83 512.9,542" fill="none" stroke="#333" stroke-width="0.75"/>
<path d="M419.4,627.6 C426.67,623.83 441.2,618.3 463,605 C484.8,591.7 535.67,557.33 550.2,547.8" fill="none" stroke="#333" stroke-width="0.75"/>
<polyline points="512.9,542 550.2,547.8" fill="none" stroke="#333" stroke-width="0.7" stroke-dasharray="1.1,1.1"/>
<polyline points="393.8,624.4 419.4,627.6" fill="none" stroke="#333" stroke-width="0.7" stroke-dasharray="1.1,1.1"/>
<polyline points="434.5,601 463,605" fill="none" stroke="#333" stroke-width="0.7" stroke-dasharray="1.1,1.1"/>
<line x1="419.4" y1="627.6" x2="419.4" y2="677.5" stroke="#444" stroke-width="1"/>
<line x1="463" y1="605" x2="463" y2="672.6" stroke="#444" stroke-width="1"/>
<line x1="550.2" y1="547.8" x2="550.2" y2="661.5" stroke="#444" stroke-width="1"/>
<polyline points="419.4,677.5 463,672.6 550.2,661.5" fill="none" stroke="#555" stroke-width="0.6"/>
<polyline points="550.2,661.5 594.8,672.6" fill="none" stroke="#333" stroke-width="0.7" stroke-dasharray="1.1,1.1"/>
<polyline points="594.8,672.6 448.5,680.6 419.4,677.5" fill="none" stroke="#555" stroke-width="0.6"/>
<polyline points="463,672.6 497.3,679.3" fill="none" stroke="#555" stroke-width="0.6" stroke-dasharray="1.1,1.1"/>
<text transform="translate(446.3,576.8) scale(0.8,1)" font-size="5.8" fill="#3a3a3a" text-anchor="end">Limite superiore</text>
<text transform="translate(446.3,582.2) scale(0.8,1)" font-size="5.8" fill="#3a3a3a" text-anchor="end">prevalenza</text>
<text x="539.4" y="552.9" font-size="5.6" fill="#3a3a3a" text-anchor="middle">①</text>
<text transform="translate(552.7,612.7) scale(0.8,1)" font-size="5.8" fill="#3a3a3a">Velocità ventilatore:</text>
<text transform="translate(552.7,618.3) scale(0.8,1)" font-size="5.8" fill="#3a3a3a">Alta</text>
<text transform="translate(465.8,643.3) scale(0.8,1)" font-size="5.8" fill="#3a3a3a">Velocità ventilatore:</text>
<text transform="translate(465.8,648.8) scale(0.8,1)" font-size="5.8" fill="#3a3a3a">Media</text>
<text transform="translate(421.5,655.7) scale(0.8,1)" font-size="5.8" fill="#3a3a3a">Velocità ventilatore:</text>
<text transform="translate(421.5,661.2) scale(0.8,1)" font-size="5.8" fill="#3a3a3a">Bassa</text>
<text x="544.7" y="659.2" font-size="5.6" fill="#3a3a3a" text-anchor="middle">②</text>
<text transform="translate(532.7,683.2) scale(0.8,1)" font-size="5.8" fill="#3a3a3a">Limite inferiore prevalenza</text>
<text x="469.7" y="704" font-size="6.4" fill="#333" textLength="62" lengthAdjust="spacingAndGlyphs">Portata d’aria [m<tspan font-size="8" dy="-0.4">³</tspan><tspan dy="0.4">/min]</tspan></text>
<text x="0" y="0" font-size="6.4" fill="#333" text-anchor="middle" textLength="40.7" lengthAdjust="spacingAndGlyphs" transform="translate(360.5,604.7) rotate(-90)">Prevalenza [Pa]</text>
<text x="377.6" y="719.1" font-size="9.6" fill="#222">①</text>
<text x="389.2" y="717.7" font-size="6.3" fill="#333" textLength="220.1" lengthAdjust="spacingAndGlyphs">Limite superiore della prevalenza con regolazione automatica della portata d’aria</text>
<text x="377.6" y="726.9" font-size="9.6" fill="#222">②</text>
<text x="389.2" y="725.5" font-size="6.3" fill="#333" textLength="216.4" lengthAdjust="spacingAndGlyphs">Limite inferiore della prevalenza con regolazione automatica della portata d’aria</text>
<text x="202.8" y="719.6" font-size="8.6" fill="#222" text-anchor="middle" textLength="135.1" lengthAdjust="spacingAndGlyphs">Impostazioni locali con telecomando</text>
<text x="203" y="729" font-size="8.6" fill="#222" text-anchor="middle" textLength="88.7" lengthAdjust="spacingAndGlyphs">Campo portata d’aria (A)</text>
<line x1="89.37" y1="732.7" x2="89.37" y2="892.7" stroke="#e4e4e4" stroke-width="0.6"/>
<line x1="109.54" y1="732.7" x2="109.54" y2="892.7" stroke="#e4e4e4" stroke-width="0.6"/>
<line x1="129.71" y1="732.7" x2="129.71" y2="892.7" stroke="#e4e4e4" stroke-width="0.6"/>
<line x1="149.88" y1="732.7" x2="149.88" y2="892.7" stroke="#e4e4e4" stroke-width="0.6"/>
<line x1="170.05" y1="732.7" x2="170.05" y2="892.7" stroke="#e4e4e4" stroke-width="0.6"/>
<line x1="190.22" y1="732.7" x2="190.22" y2="892.7" stroke="#e4e4e4" stroke-width="0.6"/>
<line x1="210.38" y1="732.7" x2="210.38" y2="892.7" stroke="#e4e4e4" stroke-width="0.6"/>
<line x1="230.55" y1="732.7" x2="230.55" y2="892.7" stroke="#e4e4e4" stroke-width="0.6"/>
<line x1="250.72" y1="732.7" x2="250.72" y2="892.7" stroke="#e4e4e4" stroke-width="0.6"/>
<line x1="270.89" y1="732.7" x2="270.89" y2="892.7" stroke="#e4e4e4" stroke-width="0.6"/>
<line x1="291.06" y1="732.7" x2="291.06" y2="892.7" stroke="#e4e4e4" stroke-width="0.6"/>
<line x1="311.23" y1="732.7" x2="311.23" y2="892.7" stroke="#e4e4e4" stroke-width="0.6"/>
<line x1="69.2" y1="866.03" x2="331.4" y2="866.03" stroke="#ececec" stroke-width="0.5"/>
<line x1="69.2" y1="839.37" x2="331.4" y2="839.37" stroke="#ececec" stroke-width="0.5"/>
<line x1="69.2" y1="812.7" x2="331.4" y2="812.7" stroke="#ececec" stroke-width="0.5"/>
<line x1="69.2" y1="786.03" x2="331.4" y2="786.03" stroke="#ececec" stroke-width="0.5"/>
<line x1="69.2" y1="759.37" x2="331.4" y2="759.37" stroke="#ececec" stroke-width="0.5"/>
<rect x="69.2" y="732.7" width="262.2" height="160" fill="none" stroke="#a8a8a8" stroke-width="0.8"/>
<text x="66.5" y="894.4" font-size="4.8" fill="#5a5a5a" text-anchor="end">0</text>
<line x1="67.7" y1="892.7" x2="69.2" y2="892.7" stroke="#999" stroke-width="0.5"/>
<text x="66.5" y="867.73" font-size="4.8" fill="#5a5a5a" text-anchor="end">50</text>
<line x1="67.7" y1="866.03" x2="69.2" y2="866.03" stroke="#999" stroke-width="0.5"/>
<text x="66.5" y="841.07" font-size="4.8" fill="#5a5a5a" text-anchor="end">100</text>
<line x1="67.7" y1="839.37" x2="69.2" y2="839.37" stroke="#999" stroke-width="0.5"/>
<text x="66.5" y="814.4" font-size="4.8" fill="#5a5a5a" text-anchor="end">150</text>
<line x1="67.7" y1="812.7" x2="69.2" y2="812.7" stroke="#999" stroke-width="0.5"/>
<text x="66.5" y="787.73" font-size="4.8" fill="#5a5a5a" text-anchor="end">200</text>
<line x1="67.7" y1="786.03" x2="69.2" y2="786.03" stroke="#999" stroke-width="0.5"/>
<text x="66.5" y="761.07" font-size="4.8" fill="#5a5a5a" text-anchor="end">250</text>
<line x1="67.7" y1="759.37" x2="69.2" y2="759.37" stroke="#999" stroke-width="0.5"/>
<text x="66.5" y="734.4" font-size="4.8" fill="#5a5a5a" text-anchor="end">300</text>
<line x1="67.7" y1="732.7" x2="69.2" y2="732.7" stroke="#999" stroke-width="0.5"/>
<line x1="68.3" y1="887.37" x2="69.2" y2="887.37" stroke="#aaa" stroke-width="0.4"/>
<line x1="68.3" y1="882.03" x2="69.2" y2="882.03" stroke="#aaa" stroke-width="0.4"/>
<line x1="68.3" y1="876.7" x2="69.2" y2="876.7" stroke="#aaa" stroke-width="0.4"/>
<line x1="68.3" y1="871.37" x2="69.2" y2="871.37" stroke="#aaa" stroke-width="0.4"/>
<line x1="68.3" y1="866.03" x2="69.2" y2="866.03" stroke="#aaa" stroke-width="0.4"/>
<line x1="68.3" y1="860.7" x2="69.2" y2="860.7" stroke="#aaa" stroke-width="0.4"/>
<line x1="68.3" y1="855.37" x2="69.2" y2="855.37" stroke="#aaa" stroke-width="0.4"/>
<line x1="68.3" y1="850.03" x2="69.2" y2="850.03" stroke="#aaa" stroke-width="0.4"/>
<line x1="68.3" y1="844.7" x2="69.2" y2="844.7" stroke="#aaa" stroke-width="0.4"/>
<line x1="68.3" y1="839.37" x2="69.2" y2="839.37" stroke="#aaa" stroke-width="0.4"/>
<line x1="68.3" y1="834.03" x2="69.2" y2="834.03" stroke="#aaa" stroke-width="0.4"/>
<line x1="68.3" y1="828.7" x2="69.2" y2="828.7" stroke="#aaa" stroke-width="0.4"/>
<line x1="68.3" y1="823.37" x2="69.2" y2="823.37" stroke="#aaa" stroke-width="0.4"/>
<line x1="68.3" y1="818.03" x2="69.2" y2="818.03" stroke="#aaa" stroke-width="0.4"/>
<line x1="68.3" y1="812.7" x2="69.2" y2="812.7" stroke="#aaa" stroke-width="0.4"/>
<line x1="68.3" y1="807.37" x2="69.2" y2="807.37" stroke="#aaa" stroke-width="0.4"/>
<line x1="68.3" y1="802.03" x2="69.2" y2="802.03" stroke="#aaa" stroke-width="0.4"/>
<line x1="68.3" y1="796.7" x2="69.2" y2="796.7" stroke="#aaa" stroke-width="0.4"/>
<line x1="68.3" y1="791.37" x2="69.2" y2="791.37" stroke="#aaa" stroke-width="0.4"/>
<line x1="68.3" y1="786.03" x2="69.2" y2="786.03" stroke="#aaa" stroke-width="0.4"/>
<line x1="68.3" y1="780.7" x2="69.2" y2="780.7" stroke="#aaa" stroke-width="0.4"/>
<line x1="68.3" y1="775.37" x2="69.2" y2="775.37" stroke="#aaa" stroke-width="0.4"/>
<line x1="68.3" y1="770.03" x2="69.2" y2="770.03" stroke="#aaa" stroke-width="0.4"/>
<line x1="68.3" y1="764.7" x2="69.2" y2="764.7" stroke="#aaa" stroke-width="0.4"/>
<line x1="68.3" y1="759.37" x2="69.2" y2="759.37" stroke="#aaa" stroke-width="0.4"/>
<line x1="68.3" y1="754.03" x2="69.2" y2="754.03" stroke="#aaa" stroke-width="0.4"/>
<line x1="68.3" y1="748.7" x2="69.2" y2="748.7" stroke="#aaa" stroke-width="0.4"/>
<line x1="68.3" y1="743.37" x2="69.2" y2="743.37" stroke="#aaa" stroke-width="0.4"/>
<line x1="68.3" y1="738.03" x2="69.2" y2="738.03" stroke="#aaa" stroke-width="0.4"/>
<text x="69.2" y="899.4" font-size="4.8" fill="#5a5a5a" text-anchor="middle">56</text>
<line x1="69.2" y1="892.7" x2="69.2" y2="894.2" stroke="#999" stroke-width="0.5"/>
<text x="109.54" y="899.4" font-size="4.8" fill="#5a5a5a" text-anchor="middle">58</text>
<line x1="109.54" y1="892.7" x2="109.54" y2="894.2" stroke="#999" stroke-width="0.5"/>
<text x="149.88" y="899.4" font-size="4.8" fill="#5a5a5a" text-anchor="middle">60</text>
<line x1="149.88" y1="892.7" x2="149.88" y2="894.2" stroke="#999" stroke-width="0.5"/>
<text x="190.22" y="899.4" font-size="4.8" fill="#5a5a5a" text-anchor="middle">62</text>
<line x1="190.22" y1="892.7" x2="190.22" y2="894.2" stroke="#999" stroke-width="0.5"/>
<text x="230.55" y="899.4" font-size="4.8" fill="#5a5a5a" text-anchor="middle">64</text>
<line x1="230.55" y1="892.7" x2="230.55" y2="894.2" stroke="#999" stroke-width="0.5"/>
<text x="270.89" y="899.4" font-size="4.8" fill="#5a5a5a" text-anchor="middle">66</text>
<line x1="270.89" y1="892.7" x2="270.89" y2="894.2" stroke="#999" stroke-width="0.5"/>
<text x="311.23" y="899.4" font-size="4.8" fill="#5a5a5a" text-anchor="middle">68</text>
<line x1="311.23" y1="892.7" x2="311.23" y2="894.2" stroke="#999" stroke-width="0.5"/>
<line x1="190.5" y1="758.86" x2="190.5" y2="892.7" stroke="#606060" stroke-width="0.95"/>
<polyline points="69.2,858.57 89.37,859.46 109.54,860.44 129.71,861.51 149.88,862.66 170.05,863.9 190.22,865.23 210.38,866.65 230.55,868.15 250.72,869.74 270.89,871.41 291.06,873.18 311.23,875.03 331.4,876.97" fill="none" stroke="#a9a9a9" stroke-width="0.75"/>
<polyline points="69.2,845.23 89.37,846.09 109.54,847.02 129.71,848.05 149.88,849.15 170.05,850.34 190.22,851.61 210.38,852.96 230.55,854.4 250.72,855.92 270.89,857.52 291.06,859.21 311.23,860.98 331.4,862.83" fill="none" stroke="#a9a9a9" stroke-width="0.75"/>
<polyline points="69.2,832.97 89.37,833.74 109.54,834.6 129.71,835.52 149.88,836.53 170.05,837.61 190.22,838.76 210.38,839.99 230.55,841.3 250.72,842.68 270.89,844.14 291.06,845.67 311.23,847.28 331.4,848.97" fill="none" stroke="#a9a9a9" stroke-width="0.75"/>
<polyline points="69.2,824.97 89.37,825.72 109.54,826.54 129.71,827.44 149.88,828.41 170.05,829.45 190.22,830.57 210.38,831.76 230.55,833.02 250.72,834.36 270.89,835.77 291.06,837.25 311.23,838.8 331.4,840.43" fill="none" stroke="#a9a9a9" stroke-width="0.75"/>
<polyline points="69.2,817.5 89.37,818.2 109.54,818.97 129.71,819.8 149.88,820.7 170.05,821.68 190.22,822.71 210.38,823.82 230.55,825 250.72,826.24 270.89,827.55 291.06,828.93 311.23,830.38 331.4,831.9" fill="none" stroke="#a9a9a9" stroke-width="0.75"/>
<polyline points="69.2,807.37 89.37,808 109.54,808.69 129.71,809.45 149.88,810.26 170.05,811.14 190.22,812.08 210.38,813.08 230.55,814.14 250.72,815.27 270.89,816.45 291.06,817.7 311.23,819.01 331.4,820.38" fill="none" stroke="#a9a9a9" stroke-width="0.75"/>
<polyline points="69.2,802.03 89.37,802.68 109.54,803.39 129.71,804.16 149.88,805 170.05,805.9 190.22,806.86 210.38,807.89 230.55,808.98 250.72,810.13 270.89,811.34 291.06,812.62 311.23,813.96 331.4,815.37" fill="none" stroke="#a9a9a9" stroke-width="0.75"/>
<polyline points="69.2,794.03 89.37,794.63 109.54,795.28 129.71,795.99 149.88,796.76 170.05,797.59 190.22,798.48 210.38,799.42 230.55,800.42 250.72,801.48 270.89,802.6 291.06,803.77 311.23,805.01 331.4,806.3" fill="none" stroke="#a9a9a9" stroke-width="0.75"/>
<polyline points="69.2,787.1 89.37,787.65 109.54,788.25 129.71,788.91 149.88,789.62 170.05,790.38 190.22,791.19 210.38,792.06 230.55,792.99 250.72,793.96 270.89,794.99 291.06,796.08 311.23,797.22 331.4,798.41" fill="none" stroke="#a9a9a9" stroke-width="0.75"/>
<polyline points="69.2,780.7 89.37,781.37 109.54,782.09 129.71,782.89 149.88,783.75 170.05,784.67 190.22,785.66 210.38,786.72 230.55,787.84 250.72,789.02 270.89,790.27 291.06,791.58 311.23,792.96 331.4,794.41" fill="none" stroke="#a9a9a9" stroke-width="0.75"/>
<polyline points="69.2,775.37 89.37,776.01 109.54,776.71 129.71,777.48 149.88,778.31 170.05,779.2 190.22,780.16 210.38,781.17 230.55,782.25 250.72,783.4 270.89,784.6 291.06,785.87 311.23,787.2 331.4,788.59" fill="none" stroke="#a9a9a9" stroke-width="0.75"/>
<polyline points="69.2,770.03 89.37,770.69 109.54,771.4 129.71,772.18 149.88,773.02 170.05,773.93 190.22,774.9 210.38,775.93 230.55,777.03 250.72,778.19 270.89,779.42 291.06,780.71 311.23,782.06 331.4,783.47" fill="none" stroke="#a9a9a9" stroke-width="0.75"/>
<polyline points="69.2,764.7 89.37,765.36 109.54,766.08 129.71,766.87 149.88,767.73 170.05,768.64 190.22,769.62 210.38,770.67 230.55,771.78 250.72,772.96 270.89,774.2 291.06,775.5 311.23,776.87 331.4,778.3" fill="none" stroke="#a9a9a9" stroke-width="0.75"/>
<polyline points="69.2,759.37 89.37,760 109.54,760.7 129.71,761.46 149.88,762.29 170.05,763.17 190.22,764.12 210.38,765.13 230.55,766.2 250.72,767.33 270.89,768.53 291.06,769.79 311.23,771.1 331.4,772.49" fill="none" stroke="#a9a9a9" stroke-width="0.75"/>
<polyline points="69.2,754.03 89.37,754.68 109.54,755.39 129.71,756.16 149.88,757 170.05,757.9 190.22,758.86 210.38,759.89 230.55,760.98 250.72,762.13 270.89,763.34 291.06,764.62 311.23,765.96 331.4,767.37" fill="none" stroke="#333" stroke-width="0.85"/>
<text x="163.2" y="912" font-size="6.4" fill="#333" textLength="60.7" lengthAdjust="spacingAndGlyphs">Portata d’aria [m<tspan font-size="8" dy="-0.4">³</tspan><tspan dy="0.4">/min]</tspan></text>
<text x="0" y="0" font-size="6.4" fill="#333" text-anchor="middle" textLength="40.7" lengthAdjust="spacingAndGlyphs" transform="translate(53.8,820) rotate(-90)">Prevalenza [Pa]</text>
<rect x="368.3" y="821.6" width="152.2" height="38.1" fill="none" stroke="#666" stroke-width="0.75"/>
<line x1="401.4" y1="821.6" x2="401.4" y2="859.7" stroke="#666" stroke-width="0.75"/>
<line x1="475.8" y1="821.6" x2="475.8" y2="859.7" stroke="#666" stroke-width="0.75"/>
<line x1="368.3" y1="831.1" x2="520.5" y2="831.1" stroke="#666" stroke-width="0.75"/>
<line x1="368.3" y1="840.6" x2="520.5" y2="840.6" stroke="#666" stroke-width="0.75"/>
<line x1="368.3" y1="850.2" x2="520.5" y2="850.2" stroke="#666" stroke-width="0.75"/>
<text x="384.85" y="828.55" font-size="6.4" fill="#333" text-anchor="middle" textLength="17.2" lengthAdjust="spacingAndGlyphs">Segno</text>
<text x="498.15" y="828.55" font-size="6.4" fill="#333" text-anchor="middle" textLength="24.8" lengthAdjust="spacingAndGlyphs">Prev. [Pa]</text>
<text x="384.85" y="839.85" font-size="9.8" fill="#222" text-anchor="middle">①</text>
<text x="402.9" y="838.05" font-size="6.6" fill="#333" textLength="23.6" lengthAdjust="spacingAndGlyphs" font-style="italic">Massima</text>
<text x="498.15" y="838.05" font-size="6.3" fill="#333" text-anchor="middle">250</text>
<text x="384.85" y="849.4" font-size="9.8" fill="#222" text-anchor="middle">②</text>
<text x="402.9" y="847.6" font-size="6.6" fill="#333" textLength="24.6" lengthAdjust="spacingAndGlyphs" font-style="italic">Standard</text>
<text x="498.15" y="847.6" font-size="6.3" fill="#333" text-anchor="middle">150</text>
<text x="384.85" y="858.95" font-size="9.8" fill="#222" text-anchor="middle">③</text>
<text x="402.9" y="857.15" font-size="6.6" fill="#333" textLength="20.2" lengthAdjust="spacingAndGlyphs" font-style="italic">Minima</text>
<text x="498.15" y="857.15" font-size="6.3" fill="#333" text-anchor="middle">50</text>
<text x="368.5" y="877.6" font-size="6.7" fill="#111" font-weight="bold" textLength="17" lengthAdjust="spacingAndGlyphs" stroke="#111" stroke-width="0.25">NOTE</text>
<text x="368.8" y="888.4" font-size="6.4" fill="#222">1.</text>
<text x="381.5" y="888.4" font-size="6.4" fill="#222" textLength="233.7" lengthAdjust="spacingAndGlyphs">Le caratteristiche del ventilatore indicate si riferiscono alla modalità “solo ventilazione”.</text>
<text x="575" y="920.8" font-size="10.6" fill="#111" font-weight="bold" textLength="53.8" lengthAdjust="spacingAndGlyphs" stroke="#111" stroke-width="0.25">4D140823</text>
<text x="47.6" y="942.2" font-size="9.6" fill="#222" textLength="13" lengthAdjust="spacingAndGlyphs">214</text>
</svg>
</body></html>
